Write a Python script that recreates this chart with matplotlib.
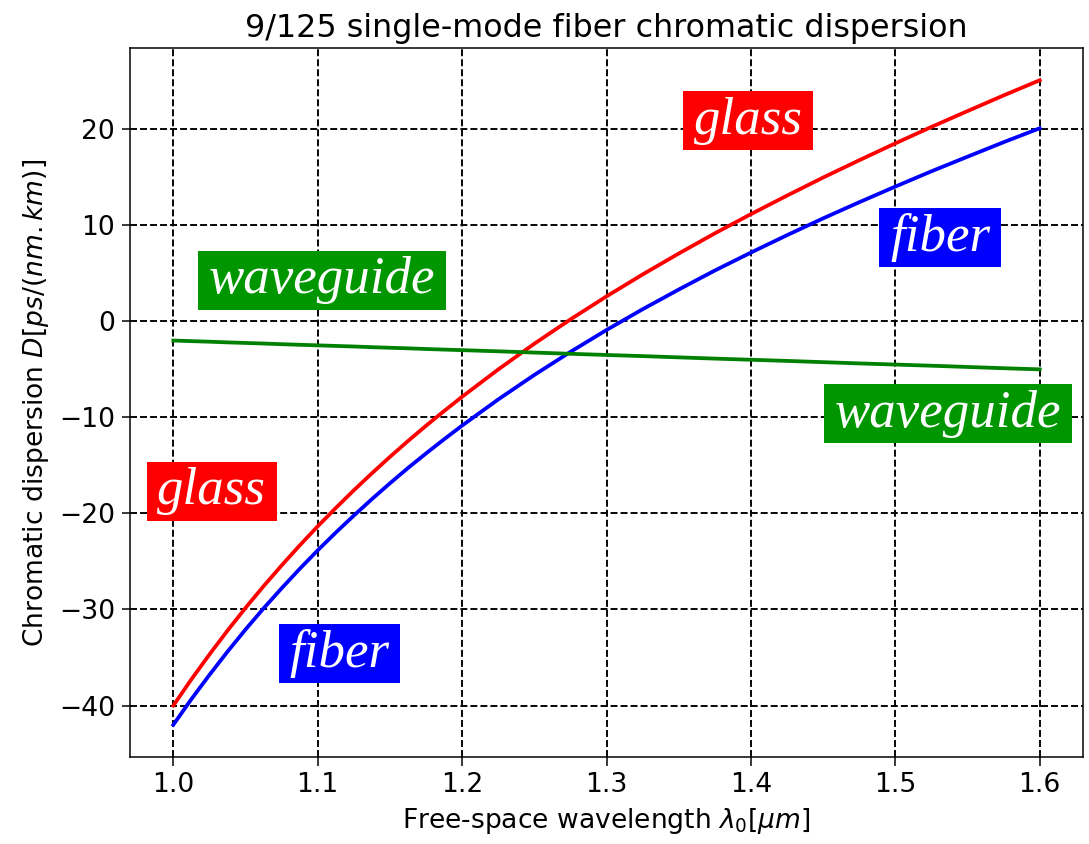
import matplotlib.pyplot as plt

# wavelength in um and dispersion values in ps/(nm.km)
wavelength = [1.0, 1.0125, 1.025, 1.0375, 1.05, 1.0625, 1.075, 1.0875, 1.1,
              1.1125, 1.125, 1.1375, 1.15, 1.1625, 1.175, 1.1875, 1.2,
              1.225, 1.25, 1.275, 1.3, 1.325, 1.35, 1.375, 1.4, 1.425,
              1.45, 1.475, 1.5, 1.525, 1.55, 1.575, 1.6]
glass = [-40.0, -37.27, -34.68, -32.2, -29.83, -27.57, -25.41, -23.33, -21.34,
         -19.43, -17.59, -15.82, -14.11, -12.46, -10.87, -9.34, -7.85,
         -5.01, -2.33, 0.2, 2.6, 4.88, 7.06, 9.16, 11.16, 13.09,
         14.97, 16.77, 18.53, 20.24, 21.89, 23.52, 25.1]
waveguide = [-2.0, -2.06, -2.12, -2.19, -2.25, -2.31, -2.38, -2.44, -2.5,
             -2.56, -2.62, -2.69, -2.75, -2.81, -2.88, -2.94, -3.0,
             -3.12, -3.25, -3.38, -3.5, -3.62, -3.75, -3.88, -4.0, -4.12,
             -4.25, -4.38, -4.5, -4.62, -4.75, -4.88, -5.0]
fiber = [-42.0, -39.33, -36.81, -34.39, -32.08, -29.88, -27.79, -25.77, -23.84,
         -21.99, -20.22, -18.51, -16.86, -15.27, -13.75, -12.28, -10.85,
         -8.13, -5.58, -3.18, -0.9, 1.26, 3.31, 5.29, 7.16, 8.97,
         10.72, 12.4, 14.03, 15.62, 17.14, 18.65, 20.1]

# text labels: (text, x, y, box colour)
labels = [
    ('glass', 1.398, 20.9, 'red'),
    ('glass', 1.0265, -17.7, 'red'),
    ('fiber', 1.531, 8.75, 'blue'),
    ('fiber', 1.115, -34.6, 'blue'),
    ('waveguide', 1.103, 4.27, '#009600'),
    ('waveguide', 1.5365, -9.6, '#009600'),
]

plt.rcParams['font.size'] = 14
DPI = 136

fig, ax = plt.subplots(figsize=(1089 / DPI, 844 / DPI), dpi=DPI)
fig.subplots_adjust(left=0.1194, right=0.9945, bottom=0.1031, top=0.9431)

ax.plot(wavelength, fiber, color='blue', lw=2)
ax.plot(wavelength, glass, color='red', lw=2)
ax.plot(wavelength, waveguide, color='green', lw=2)

ax.grid(True, color='black', ls='--', lw=1)
ax.tick_params(length=4.5)

for txt, x, y, col in labels:
    ax.text(x, y, txt, fontsize=28, color='white', family='Liberation Serif',
            style='italic', ha='center', va='center',
            bbox=dict(boxstyle='square,pad=0.2', mutation_aspect=0.5,
                      fc=col, ec='none'))

ax.set_title('9/125 single-mode fiber chromatic dispersion')
ax.set_xlabel(r'Free-space wavelength $\lambda_0[\mu m]$')
ax.set_ylabel(r'Chromatic dispersion $D[ps/(nm.km)]$')

fig.savefig('out.png', dpi=DPI)
